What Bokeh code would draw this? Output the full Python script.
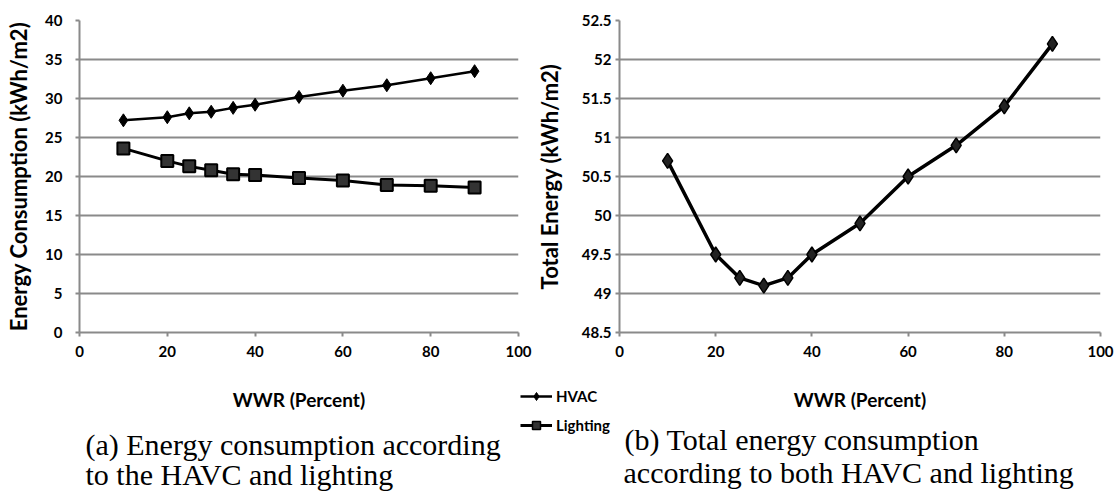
from bokeh.plotting import figure
from bokeh.layouts import row, column
from bokeh.models import Range1d, FixedTicker, Legend, LegendItem, Label
from bokeh.embed import file_html
from bokeh.resources import INLINE

# Window-to-wall ratio (percent) and simulated energy use (kWh/m2)
wwr = [10, 20, 25, 30, 35, 40, 50, 60, 70, 80, 90]
hvac = [27.2, 27.6, 28.1, 28.3, 28.8, 29.2, 30.2, 31.0, 31.7, 32.6, 33.5]
lighting = [23.6, 22.0, 21.3, 20.8, 20.3, 20.2, 19.8, 19.5, 18.9, 18.8, 18.6]
total = [50.7, 49.5, 49.2, 49.1, 49.2, 49.5, 49.9, 50.5, 50.9, 51.4, 52.2]

x_ticks = [0, 20, 40, 60, 80, 100]
left_y_ticks = [0, 5, 10, 15, 20, 25, 30, 35, 40]
right_y_ticks = [48.5, 49, 49.5, 50, 50.5, 51, 51.5, 52, 52.5]

FONT = "Lato"
SERIF = "Liberation Serif"
GRID = "#8a8a8a"


def style(p, xlabel, ylabel, yticks):
    p.outline_line_color = None
    p.background_fill_color = "white"
    p.border_fill_color = "white"
    p.xgrid.grid_line_color = None
    p.ygrid.grid_line_color = GRID
    p.ygrid.grid_line_width = 2
    p.xaxis.ticker = FixedTicker(ticks=x_ticks)
    p.yaxis.ticker = FixedTicker(ticks=yticks)
    p.yaxis.major_label_overrides = {t: f"{t:g}" for t in yticks}
    for ax in (p.xaxis[0], p.yaxis[0]):
        ax.axis_line_color = GRID
        ax.axis_line_width = 2
        ax.major_tick_line_color = GRID
        ax.major_tick_line_width = 2
        ax.major_tick_in = 0
        ax.major_tick_out = 4
        ax.minor_tick_line_color = None
        ax.major_label_text_font = FONT
        ax.major_label_text_font_style = "bold"
        ax.major_label_text_font_size = "15px"
        ax.major_label_text_color = "black"
        ax.axis_label_text_font = FONT
        ax.axis_label_text_font_style = "bold"
        ax.axis_label_text_font_size = "19px"
        ax.axis_label_text_color = "black"
    p.xaxis.axis_label = xlabel
    p.yaxis.axis_label = ylabel
    p.yaxis.axis_label_text_font_size = "22px"
    p.xaxis.major_label_standoff = 9
    p.xaxis.axis_label_standoff = 28


# (a) HVAC and lighting energy consumption
pa = figure(width=532, height=497, output_backend="svg", toolbar_location=None,
            x_range=Range1d(0, 100), y_range=Range1d(0, 40),
            min_border_left=79, min_border_right=14,
            min_border_top=20, min_border_bottom=165)
style(pa, "WWR (Percent)", "Energy Consumption (kWh/m2)", left_y_ticks)
pa.yaxis.major_label_standoff = 13
pa.yaxis.axis_label_standoff = 10

pa.line(wwr, hvac, line_color="black", line_width=2.5)
pa.scatter(wwr, hvac, marker="diamond", size=13, fill_color="black",
           line_color="black")
pa.line(wwr, lighting, line_color="black", line_width=3)
pa.scatter(wwr, lighting, marker="square", size=12, fill_color="#333333",
           line_color="black", line_width=2)

# (b) Total energy consumption
pb = figure(width=582, height=497, output_backend="svg", toolbar_location=None,
            x_range=Range1d(0, 100), y_range=Range1d(48.5, 52.5),
            min_border_left=87, min_border_right=14,
            min_border_top=20, min_border_bottom=165)
style(pb, "WWR (Percent)", "Total Energy (kWh/m2)", right_y_ticks)
pb.yaxis.major_label_standoff = 4
pb.yaxis.axis_label_standoff = 16

pb.line(wwr, total, line_color="black", line_width=3.5)
pb.scatter(wwr, total, marker="diamond", size=15, fill_color="#222222",
           line_color="black", line_width=1.5)

# transparent strip over the bottom of the page: legend of (a) and captions
STRIP_H = 117
strip = figure(width=1114, height=STRIP_H, output_backend="svg", title=None,
               toolbar_location=None, x_range=Range1d(0, 100),
               y_range=Range1d(100, 140),  # series sit outside this window
               x_axis_location=None, y_axis_location=None, min_border=0,
               styles={"margin-top": f"-{STRIP_H}px"})
strip.outline_line_color = None
strip.grid.grid_line_color = None
strip.background_fill_color = None
strip.border_fill_color = None

k_hl = strip.line(wwr, hvac, line_color="black", line_width=2.5)
k_hs = strip.scatter(wwr, hvac, marker="diamond", size=9, fill_color="black",
                     line_color="black")
k_ll = strip.line(wwr, lighting, line_color="black", line_width=3)
k_ls = strip.scatter(wwr, lighting, marker="square", size=9,
                     fill_color="#333333", line_color="black", line_width=1.5)

legend = Legend(items=[LegendItem(label="HVAC", renderers=[k_hl, k_hs]),
                       LegendItem(label="Lighting", renderers=[k_ll, k_ls])],
                location=(520, 62), orientation="vertical",
                glyph_width=32, glyph_height=20, label_height=20,
                label_standoff=4, spacing=9, padding=0, margin=0,
                border_line_color=None, background_fill_alpha=0,
                label_text_font=FONT, label_text_font_style="bold",
                label_text_font_size="15px", label_text_color="black")
strip.add_layout(legend, "center")

captions = [
    (85, 53, "(a) Energy consumption according"),
    (85, 23, "to the HAVC and lighting"),
    (624, 58, "(b) Total energy consumption"),
    (623, 25, "according to both HAVC and lighting"),
]
for cx, cy, txt in captions:
    strip.add_layout(Label(x=cx, y=cy, x_units="screen", y_units="screen",
                           text=txt, text_font=SERIF, text_font_size="30px",
                           text_baseline="alphabetic", text_color="black"))

page = column(row(pa, pb, spacing=0), strip, spacing=0)
open("out.html", "w").write(file_html(page, INLINE))
